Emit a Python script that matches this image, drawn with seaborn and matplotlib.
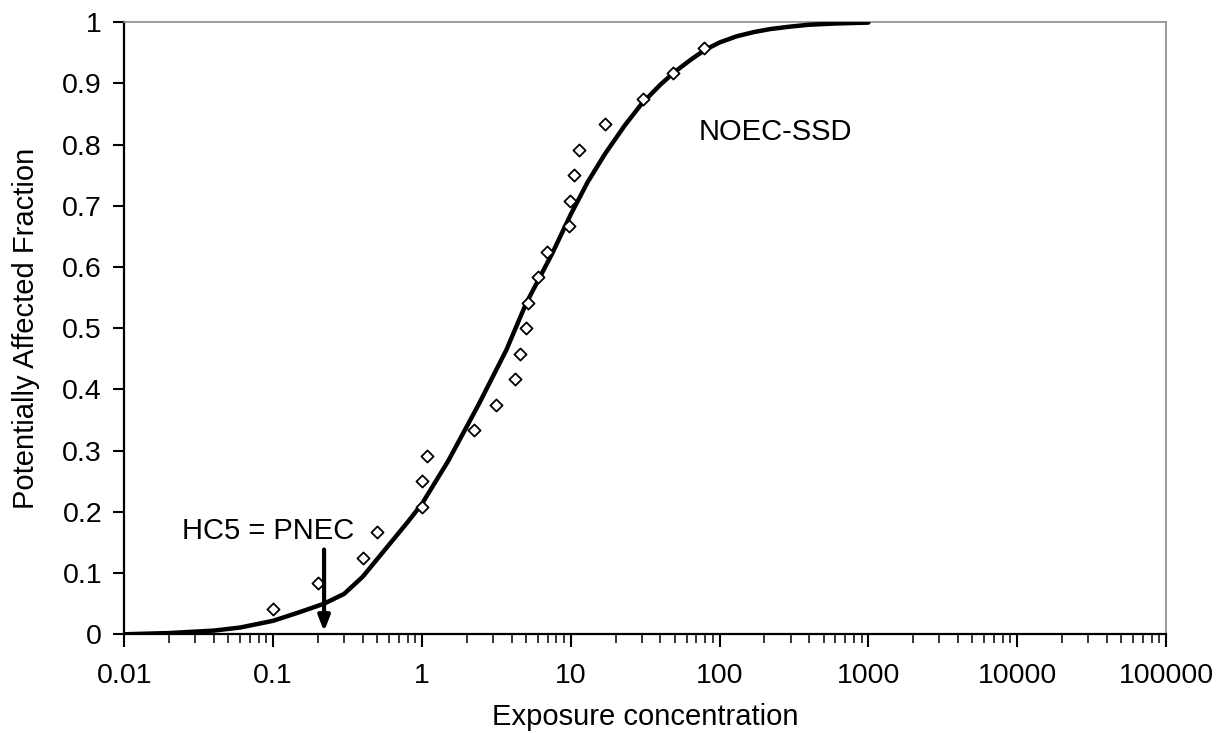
import matplotlib
matplotlib.use("Agg")
import matplotlib.pyplot as plt
import numpy as np
import pandas as pd
import seaborn as sns
from matplotlib.ticker import FixedLocator, LogLocator, NullFormatter

# Observed NOEC values (species sensitivity data) and their plotting positions
noec_conc = [0.1, 0.2, 0.4, 0.5, 1.0, 1.0, 1.08, 2.25, 3.15, 4.2, 4.55, 5.0,
             5.15, 6.0, 6.9, 9.7, 9.9, 10.5, 11.3, 17.0, 30.5, 49.0, 79.0]
noec_frac = [0.042, 0.083, 0.125, 0.167, 0.208, 0.250, 0.292, 0.333, 0.375,
             0.417, 0.458, 0.500, 0.542, 0.583, 0.625, 0.667, 0.708, 0.750,
             0.792, 0.833, 0.875, 0.917, 0.958]

# Fitted species sensitivity distribution curve
ssd_conc = [0.01, 0.02, 0.04, 0.06, 0.1, 0.15, 0.22, 0.3, 0.4, 0.8, 1.0,
            1.5, 2.4, 3.7, 5.0, 7.5, 10.0, 13.0, 17.0, 23.0, 30.0, 40.0,
            50.0, 65.0, 80.0, 100.0, 130.0, 170.0, 220.0, 300.0, 400.0,
            600.0, 1000.0]
ssd_frac = [0.0, 0.002, 0.006, 0.011, 0.022, 0.036, 0.05, 0.066, 0.094,
            0.183, 0.213, 0.283, 0.375, 0.465, 0.54, 0.622, 0.686, 0.739,
            0.785, 0.831, 0.867, 0.898, 0.919, 0.940, 0.955, 0.967, 0.977,
            0.984, 0.989, 0.993, 0.996, 0.998, 0.9995]

hc5_conc = 0.22
hc5_frac = 0.05

x_ticks = [0.01, 0.1, 1, 10, 100, 1000, 10000, 100000]
x_tick_labels = ["0.01", "0.1", "1", "10", "100", "1000", "10000", "100000"]
y_ticks = [0, 0.1, 0.2, 0.3, 0.4, 0.5, 0.6, 0.7, 0.8, 0.9, 1]
y_tick_labels = ["0", "0.1", "0.2", "0.3", "0.4", "0.5", "0.6", "0.7", "0.8", "0.9", "1"]

sns.set_style("ticks")
plt.rcParams["font.family"] = ["Liberation Sans", "DejaVu Sans"]
plt.rcParams["text.color"] = "black"
plt.rcParams["axes.labelcolor"] = "black"

fig = plt.figure(figsize=(12.2, 7.33), dpi=100)
ax = fig.add_axes([0.1019, 0.1347, 0.9557 - 0.1019, 0.9696 - 0.1347])

curve_df = pd.DataFrame({"conc": ssd_conc, "frac": ssd_frac})
pts_df = pd.DataFrame({"conc": noec_conc, "frac": noec_frac})

sns.lineplot(data=curve_df, x="conc", y="frac", ax=ax, color="black",
             linewidth=3.2, sort=False, zorder=3)
sns.scatterplot(data=pts_df, x="conc", y="frac", ax=ax, marker="D", s=38,
                facecolor="white", edgecolor="black", linewidth=1.3, zorder=4)

ax.set_xscale("log")
ax.set_xlim(0.01, 100000)
ax.set_ylim(0, 1)

ax.xaxis.set_major_locator(FixedLocator(x_ticks))
ax.set_xticks(x_ticks)
ax.set_xticklabels(x_tick_labels)
ax.xaxis.set_minor_locator(LogLocator(base=10, subs=np.arange(2, 10)))
ax.xaxis.set_minor_formatter(NullFormatter())
ax.set_yticks(y_ticks)
ax.set_yticklabels(y_tick_labels)

ax.tick_params(axis="x", which="major", direction="out", length=9, width=1.5,
               labelsize=20.5, pad=12, colors="black")
ax.tick_params(axis="x", which="minor", direction="out", length=6.5, width=1.3)
ax.tick_params(axis="y", which="major", direction="out", length=8, width=1.5,
               labelsize=20.5, pad=8, colors="black")

for side in ("left", "bottom"):
    ax.spines[side].set_color("black")
    ax.spines[side].set_linewidth(1.6)
for side in ("top", "right"):
    ax.spines[side].set_visible(True)
    ax.spines[side].set_color("#8c8c8c")
    ax.spines[side].set_linewidth(1.2)

ax.set_xlabel("Exposure concentration", fontsize=21, labelpad=10)
ax.set_ylabel("Potentially Affected Fraction", fontsize=21, labelpad=16)

# HC5 marker arrow pointing to the concentration axis
ax.annotate("", xy=(hc5_conc, 0.0), xytext=(hc5_conc, 0.143),
            arrowprops=dict(arrowstyle="-|>,head_length=0.9,head_width=0.35",
                            color="black", lw=3), zorder=5)
ax.text(0.0243, 0.168, "HC5 = PNEC", fontsize=21, va="center", ha="left")
ax.text(72, 0.821, "NOEC-SSD", fontsize=21, va="center", ha="left")

fig.savefig("out.png", dpi=100)
